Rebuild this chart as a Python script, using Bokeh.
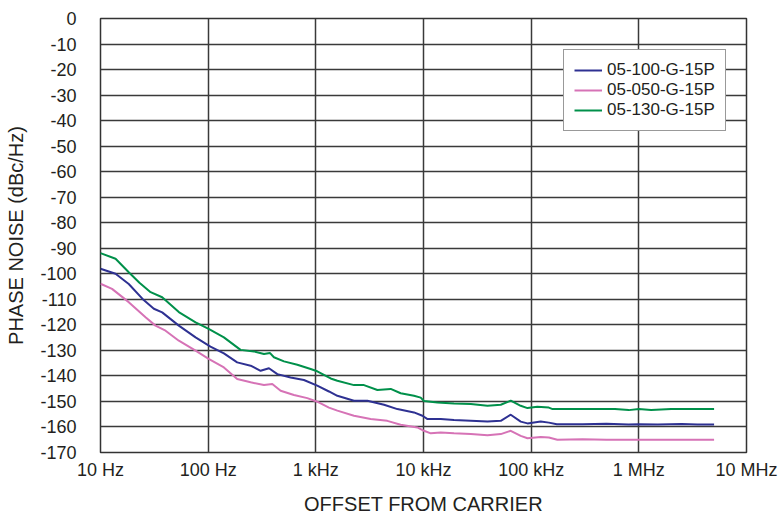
from bokeh.plotting import figure
from bokeh.models import FixedTicker
from bokeh.embed import file_html
from bokeh.resources import INLINE

# ---- data ----
x_ticks = [10, 100, 1000, 10000, 100000, 1000000, 10000000]
x_tick_labels = ["10 Hz", "100 Hz", "1 kHz", "10 kHz", "100 kHz", "1 MHz", "10 MHz"]
y_ticks = list(range(-170, 1, 10))
y_tick_labels = [str(v) for v in y_ticks]

x_title = "OFFSET FROM CARRIER"
y_title = "PHASE NOISE (dBc/Hz)"

series_names = ["05-100-G-15P", "05-050-G-15P", "05-130-G-15P"]

blue_f = [10, 13.8, 18.3, 25.2, 31.3, 37.4, 53.4, 76.4, 105, 140,
          186, 248, 307, 367, 439, 583, 775, 1030, 1324, 1585,
          2260, 3010, 4300, 5720, 8160, 9770, 10900, 14450, 19200, 27500,
          39300, 52200, 64600, 80000, 92400, 122700, 146000, 173000, 300000, 500000,
          800000, 1000000, 1500000, 2500000, 3500000, 5000000]
blue_db = [-98.0, -100.0, -104.0, -110.3, -113.7, -115.1, -120.3, -124.9, -128.5, -131.2,
           -134.7, -136.0, -138.0, -137.0, -139.3, -140.6, -141.6, -143.8, -146.1, -147.8,
           -149.7, -149.7, -151.3, -153.0, -154.3, -155.6, -156.9, -156.9, -157.3, -157.6,
           -157.9, -157.6, -155.2, -157.9, -158.6, -157.9, -158.3, -158.9, -158.9, -158.7,
           -159.0, -158.9, -159.0, -158.8, -159.0, -159.0]

pink_f = [10, 12.8, 18.3, 26.2, 32.4, 40.2, 53.4, 76.4, 101, 140,
          186, 248, 330, 394, 471, 626, 833, 1030, 1324, 1585,
          2260, 3230, 4610, 6140, 8770, 10100, 11680, 14450, 19200, 27500,
          39300, 52200, 64600, 80000, 92400, 122700, 146000, 175000, 300000, 500000,
          1000000, 2000000, 5000000]
pink_db = [-103.9, -105.9, -111.1, -117.0, -120.3, -122.3, -126.2, -130.1, -133.3, -136.7,
           -141.2, -142.5, -143.6, -143.2, -145.8, -147.5, -148.7, -150.1, -152.4, -153.6,
           -155.6, -156.9, -157.6, -159.1, -160.2, -161.5, -162.5, -162.2, -162.5, -162.8,
           -163.2, -162.8, -161.5, -163.5, -164.4, -163.9, -164.1, -165.0, -164.8, -165.0,
           -165.0, -165.0, -165.0]

green_f = [10, 13.8, 18.3, 23, 29.2, 37.4, 53.4, 76.4, 101, 140,
           200, 266, 330, 374, 408, 506, 673, 895, 1030, 1373,
           1585, 2260, 2800, 3730, 4960, 6140, 8160, 9420, 10100, 13460,
           19200, 27500, 39300, 52200, 64600, 80000, 92400, 114000, 146000, 158000,
           250000, 400000, 600000, 807000, 1000000, 1300000, 2000000, 3500000, 5000000]
green_db = [-91.9, -94.1, -99.4, -103.5, -107.2, -109.2, -115.0, -119.0, -121.6, -124.9,
            -129.8, -130.4, -131.4, -131.0, -132.7, -134.3, -135.6, -137.3, -138.2, -141.0,
            -141.9, -143.6, -143.6, -145.5, -145.1, -146.8, -147.8, -148.5, -149.8, -150.4,
            -150.8, -151.0, -151.7, -151.3, -149.7, -151.7, -152.6, -152.1, -152.4, -153.0,
            -153.0, -153.0, -153.0, -153.4, -153.0, -153.4, -153.0, -153.0, -153.0]

colors = ["#2e3192", "#d673b6", "#00904a"]

FONT = "Liberation Sans"
TXT = "#231f20"

p = figure(width=778, height=518, x_axis_type="log",
           x_range=(10, 1e7), y_range=(-170, 0),
           output_backend="svg", toolbar_location=None,
           min_border_left=100, min_border_right=32,
           min_border_top=18, min_border_bottom=66)

p.line(blue_f, blue_db, line_color=colors[0], line_width=2, legend_label=series_names[0])
p.line(pink_f, pink_db, line_color=colors[1], line_width=2, legend_label=series_names[1])
p.line(green_f, green_db, line_color=colors[2], line_width=2, legend_label=series_names[2])

p.xaxis.ticker = FixedTicker(ticks=x_ticks)
p.xaxis.major_label_overrides = {t: l for t, l in zip(x_ticks, x_tick_labels)}
p.yaxis.ticker = FixedTicker(ticks=y_ticks)
p.yaxis.major_label_overrides = {t: l for t, l in zip(y_ticks, y_tick_labels)}
p.xgrid.ticker = FixedTicker(ticks=x_ticks)
p.ygrid.ticker = FixedTicker(ticks=y_ticks)

for ax in (p.xaxis[0], p.yaxis[0]):
    ax.axis_line_color = None
    ax.major_tick_line_color = None
    ax.minor_tick_line_color = None
    ax.major_label_text_font = FONT
    ax.major_label_text_font_size = "18px"
    ax.major_label_text_color = TXT
    ax.axis_label_text_font = FONT
    ax.axis_label_text_font_size = "20px"
    ax.axis_label_text_font_style = "normal"
    ax.axis_label_text_color = TXT

p.xaxis.axis_label = x_title
p.xaxis.major_label_standoff = 1
p.xaxis.axis_label_standoff = 10
p.yaxis.axis_label = y_title
p.yaxis.major_label_standoff = 18
p.yaxis.axis_label_standoff = 10

p.grid.grid_line_color = "#3a3a3a"
p.grid.grid_line_width = 1.5
p.outline_line_color = "#333333"
p.outline_line_width = 1.5

lg = p.legend[0]
lg.location = (463, 321)
lg.border_line_color = "#333333"
lg.border_line_width = 1
lg.background_fill_color = "white"
lg.background_fill_alpha = 1
lg.label_text_font = FONT
lg.label_text_font_size = "17px"
lg.label_text_color = TXT
lg.glyph_width = 28
lg.glyph_height = 18
lg.label_height = 18
lg.spacing = 0
lg.padding = 10
lg.margin = 0
lg.label_standoff = 5

open("out.html", "w").write(file_html(p, INLINE))
